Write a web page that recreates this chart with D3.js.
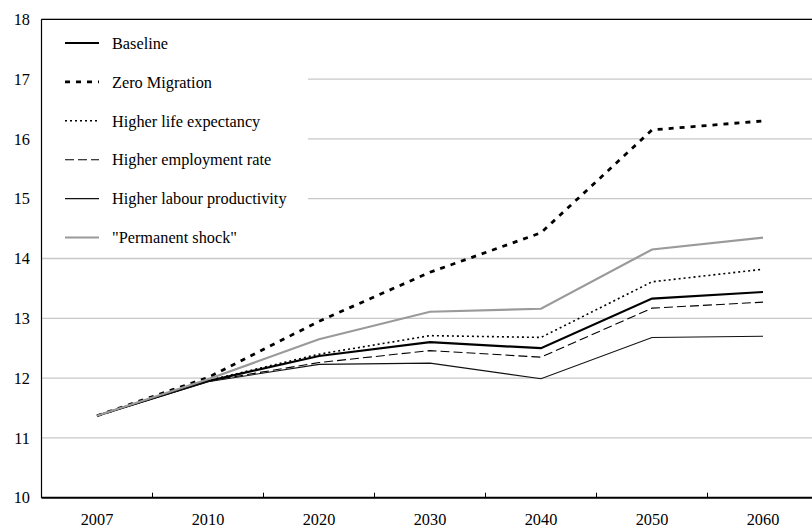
<!DOCTYPE html>
<html>
<head>
<meta charset="utf-8">
<script src="https://cdn.jsdelivr.net/npm/d3@7"></script>
<style>
  body { margin: 0; background: #fff; }
  svg text { font-family: "Liberation Serif", "Times New Roman", Tinos, serif; font-size: 16.3px; fill: #000; }
</style>
</head>
<body>
<div id="chart"></div>
<script>
const WIDTH = 812, HEIGHT = 529;
const LEFT = 41.5, RIGHT = 818.5, TOP = 19.3, BOTTOM = 497.7; // plot runs past the right edge

const years = ["2007", "2010", "2020", "2030", "2040", "2050", "2060"];
const yTicks = [10, 11, 12, 13, 14, 15, 16, 17, 18];

const baseline      = [11.37, 11.95, 12.37, 12.60, 12.50, 13.33, 13.44];
const zeroMigration = [11.37, 12.01, 12.95, 13.77, 14.43, 16.15, 16.30];
const lifeExp       = [11.37, 11.96, 12.40, 12.71, 12.68, 13.61, 13.82];
const employment    = [11.37, 11.95, 12.26, 12.46, 12.35, 13.17, 13.27];
const productivity  = [11.37, 11.94, 12.23, 12.25, 11.99, 12.68, 12.70];
const permShock     = [11.37, 11.98, 12.65, 13.11, 13.16, 14.15, 14.35];

const series = [
    { name: "Baseline", values: baseline, color: "#000", width: 2.2, dash: null },
    { name: "Zero Migration", values: zeroMigration, color: "#000", width: 2.8, dash: "5,6" },
    { name: "Higher life expectancy", values: lifeExp, color: "#000", width: 1.6, dash: "2,3" },
    { name: "Higher employment rate", values: employment, color: "#000", width: 1.1, dash: "9,4" },
    { name: "Higher labour productivity", values: productivity, color: "#111", width: 1.1, dash: null },
    { name: "\"Permanent shock\"", values: permShock, color: "#9a9a9a", width: 2.2, dash: null }
];

const svg = d3.select("#chart").append("svg")
    .attr("width", WIDTH)
    .attr("height", HEIGHT);

const x = d3.scaleBand().domain(years).range([LEFT, RIGHT]);
const y = d3.scaleLinear().domain([10, 18]).range([BOTTOM, TOP]);
const xc = yr => x(yr) + x.bandwidth() / 2;

// gridlines
svg.append("g")
    .selectAll("line")
    .data(yTicks.filter(t => t > 10))
    .join("line")
    .attr("x1", LEFT).attr("x2", RIGHT)
    .attr("y1", d => y(d)).attr("y2", d => y(d))
    .attr("stroke", "#c8c8c8")
    .attr("stroke-width", 1.3);

// legend box hides gridlines behind it
svg.append("rect")
    .attr("x", LEFT).attr("y", TOP)
    .attr("width", 308 - LEFT).attr("height", 250 - TOP)
    .attr("fill", "#fff");

// y axis labels
svg.append("g")
    .selectAll("text")
    .data(yTicks)
    .join("text")
    .attr("x", 30)
    .attr("y", d => y(d))
    .attr("dy", "0.35em")
    .attr("text-anchor", "end")
    .text(d => d);

// x axis labels
svg.append("g")
    .selectAll("text")
    .data(years)
    .join("text")
    .attr("x", d => xc(d))
    .attr("y", 525)
    .attr("text-anchor", "middle")
    .text(d => d);

// lines
const line = d3.line()
    .x((d, i) => xc(years[i]))
    .y(d => y(d));

svg.append("g")
    .selectAll("path")
    .data(series)
    .join("path")
    .attr("d", d => line(d.values))
    .attr("fill", "none")
    .attr("stroke", d => d.color)
    .attr("stroke-width", d => d.width)
    .attr("stroke-dasharray", d => d.dash)
    .attr("stroke-linejoin", "miter");

// axes frame
const boundaries = years.map(yr => x(yr)).concat([RIGHT]);
svg.append("g")
    .selectAll("line")
    .data(boundaries)
    .join("line")
    .attr("x1", d => d).attr("x2", d => d)
    .attr("y1", BOTTOM).attr("y2", BOTTOM - 5)
    .attr("stroke", "#000").attr("stroke-width", 1);
svg.append("line")
    .attr("x1", LEFT).attr("x2", RIGHT)
    .attr("y1", BOTTOM).attr("y2", BOTTOM)
    .attr("stroke", "#000").attr("stroke-width", 2);
svg.append("line")
    .attr("x1", LEFT).attr("x2", LEFT)
    .attr("y1", TOP).attr("y2", BOTTOM)
    .attr("stroke", "#000").attr("stroke-width", 1.2);
svg.append("line")
    .attr("x1", LEFT).attr("x2", RIGHT)
    .attr("y1", TOP).attr("y2", TOP)
    .attr("stroke", "#000").attr("stroke-width", 1.3);

// legend
const legend = svg.append("g")
    .selectAll("g")
    .data(series)
    .join("g")
    .attr("transform", (d, i) => `translate(0,${43 + i * 38.9})`);
legend.append("line")
    .attr("x1", 65).attr("x2", 99)
    .attr("stroke", d => d.color)
    .attr("stroke-width", d => d.width)
    .attr("stroke-dasharray", d => d.dash);
legend.append("text")
    .attr("x", 112)
    .attr("dy", "0.35em")
    .text(d => d.name);
</script>
</body>
</html>
